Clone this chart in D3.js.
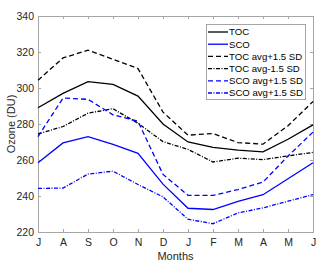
<!DOCTYPE html>
<html>
<head>
<meta charset="utf-8">
<script src="https://d3js.org/d3.v7.min.js"></script>
<style>
  body { margin: 0; background: #fff; }
  svg text { font-family: "Liberation Sans", Arial, sans-serif; }
</style>
</head>
<body>
<script>
// months July .. June
var months = ["J", "A", "S", "O", "N", "D", "J", "F", "M", "A", "M", "J"];

var toc      = [289, 297, 303.5, 302, 295.5, 280, 270, 267, 265.5, 264.5, 271.5, 279.5];
var sco      = [258.5, 269.5, 273, 268.7, 263.7, 246.6, 233.2, 232.5, 237, 240.7, 249.6, 258.5];
var tocPlus  = [304.3, 316.7, 321, 316, 310.8, 286.6, 273.8, 274.7, 269.7, 268.8, 279, 292.5];
var tocMinus = [274.5, 278.6, 286, 288.5, 280.4, 270.2, 265.9, 258.9, 261, 260.2, 262.3, 264.2];
var scoPlus  = [273, 294.4, 293.7, 285.1, 281.5, 252, 240.4, 240.3, 243.6, 247.7, 262.2, 275.5];
var scoMinus = [244.2, 244.4, 252.2, 253.8, 246.4, 239.5, 227.1, 224.6, 230.6, 233.4, 237.1, 240.8];

var yTicks = [220, 240, 260, 280, 300, 320, 340];

var series = [
  {name: "TOC",            values: toc,      color: "#000000", dash: null},
  {name: "SCO",            values: sco,      color: "#0000ff", dash: null},
  {name: "TOC avg+1.5 SD", values: tocPlus,  color: "#000000", dash: "5,3"},
  {name: "TOC avg-1.5 SD", values: tocMinus, color: "#000000", dash: "4,1.5,1,1.5"},
  {name: "SCO avg+1.5 SD", values: scoPlus,  color: "#0000ff", dash: "5,3"},
  {name: "SCO avg+1.5 SD", values: scoMinus, color: "#0000ff", dash: "4,1.5,1,1.5"}
];

var W = 320, H = 264;
var margin = {top: 16, right: 7, bottom: 32, left: 38};
var width = W - margin.left - margin.right;
var height = H - margin.top - margin.bottom;

var svg = d3.select("body").append("svg")
  .attr("width", W)
  .attr("height", H);

var g = svg.append("g").attr("transform", "translate(" + margin.left + "," + margin.top + ")");

var x = d3.scaleLinear().domain([0, months.length - 1]).range([0, width]);
var y = d3.scaleLinear().domain([220, 340]).range([height, 0]);

var axisColor = "#a6a6a6";
var textColor = "#262626";

// box
g.append("rect")
  .attr("x", 0).attr("y", 0)
  .attr("width", width).attr("height", height)
  .attr("fill", "none")
  .attr("stroke", axisColor)
  .attr("stroke-width", 1)
  .attr("shape-rendering", "crispEdges");

// axes with inward ticks
var xAxis = g.append("g")
  .attr("transform", "translate(0," + height + ")")
  .call(d3.axisBottom(x).tickValues(d3.range(months.length))
    .tickFormat(function(d) { return months[d]; })
    .tickSizeInner(-3).tickSizeOuter(0).tickPadding(7));

var xTop = g.append("g")
  .call(d3.axisTop(x).tickValues(d3.range(months.length))
    .tickFormat("").tickSizeInner(-3).tickSizeOuter(0));

var yAxis = g.append("g")
  .call(d3.axisLeft(y).tickValues(yTicks)
    .tickSizeInner(-3).tickSizeOuter(0).tickPadding(4));

var yRight = g.append("g")
  .attr("transform", "translate(" + width + ",0)")
  .call(d3.axisRight(y).tickValues(yTicks)
    .tickFormat("").tickSizeInner(-3).tickSizeOuter(0));

[xAxis, xTop, yAxis, yRight].forEach(function(a) {
  a.select(".domain").remove();
  a.selectAll("line").attr("stroke", axisColor);
  a.selectAll("text")
    .attr("fill", textColor)
    .style("font-size", "10.5px");
});

// lines
var line = d3.line()
  .x(function(d, i) { return x(i); })
  .y(function(d) { return y(d); });

g.selectAll(".series")
  .data(series)
  .enter()
    .append("path")
    .attr("class", "series")
    .attr("d", function(d) { return line(d.values); })
    .attr("fill", "none")
    .attr("stroke", function(d) { return d.color; })
    .attr("stroke-width", 1.3)
    .attr("stroke-dasharray", function(d) { return d.dash; });

// axis labels
svg.append("text")
  .attr("x", margin.left + width / 2)
  .attr("y", 260)
  .attr("text-anchor", "middle")
  .attr("fill", textColor)
  .style("font-size", "11px")
  .text("Months");

svg.append("text")
  .attr("transform", "translate(15," + (margin.top + height / 2) + ") rotate(-90)")
  .attr("text-anchor", "middle")
  .attr("fill", textColor)
  .style("font-size", "11px")
  .text("Ozone (DU)");

// legend
var legend = svg.append("g").attr("transform", "translate(206,24)");
legend.append("rect")
  .attr("x", 0).attr("y", 0)
  .attr("width", 99).attr("height", 75)
  .attr("fill", "#fff")
  .attr("stroke", axisColor)
  .attr("shape-rendering", "crispEdges");

var item = legend.selectAll(".item")
  .data(series)
  .enter()
    .append("g")
    .attr("class", "item")
    .attr("transform", function(d, i) { return "translate(0," + (8 + i * 12.2) + ")"; });

item.append("line")
  .attr("x1", 2).attr("x2", 22)
  .attr("stroke", function(d) { return d.color; })
  .attr("stroke-width", 1.3)
  .attr("stroke-dasharray", function(d) { return d.dash; });

item.append("text")
  .attr("x", 23)
  .attr("dy", "0.35em")
  .attr("fill", "#000")
  .style("font-size", "9.6px")
  .text(function(d) { return d.name; });
</script>
</body>
</html>
